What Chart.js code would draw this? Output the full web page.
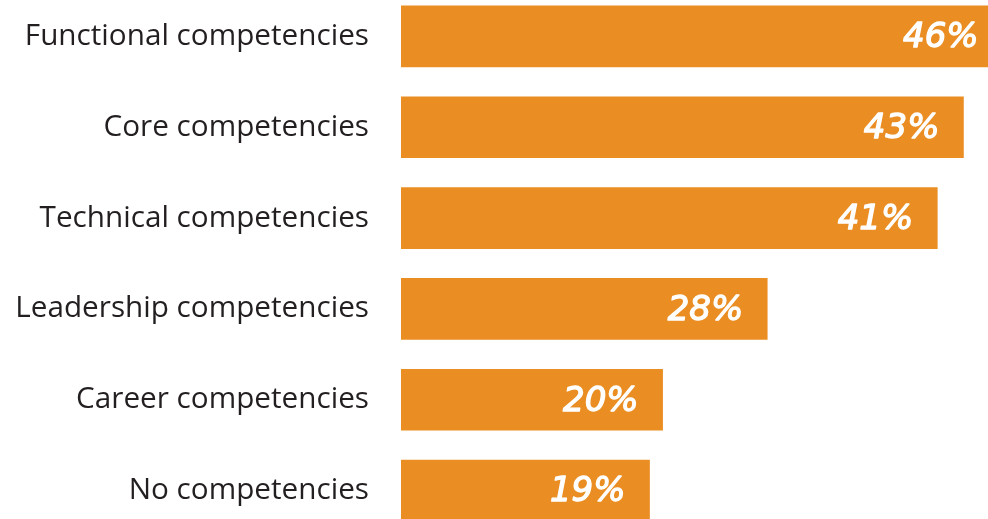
<!DOCTYPE html>
<html>
<head>
<meta charset="utf-8">
<script src="https://cdn.jsdelivr.net/npm/chart.js@4"></script>
<style>
  html, body { margin: 0; padding: 0; background: #fff; overflow: hidden; width: 988px; height: 519px; }
  #bar-canvas { position: absolute; left: 0; top: -9px; }
</style>
</head>
<body>
<canvas id="bar-canvas" width="1055" height="545"></canvas>
<script>
const categories = [
    'Functional competencies',
    'Core competencies',
    'Technical competencies',
    'Leadership competencies',
    'Career competencies',
    'No competencies'
];
const percentValues = [46, 43, 41, 28, 20, 19];
const valueLabels = ['46%', '43%', '41%', '28%', '20%', '19%'];

// white italic value text near the end of each bar
const valueLabelPlugin = {
    id: 'valueLabels',
    afterDatasetsDraw(chart) {
        const ctx = chart.ctx;
        const meta = chart.getDatasetMeta(0);
        ctx.save();
        ctx.fillStyle = '#ffffff';
        ctx.strokeStyle = '#ffffff';
        ctx.lineWidth = 1.3;
        ctx.lineJoin = 'round';
        ctx.font = 'italic 34px "DejaVu Sans"';
        ctx.textAlign = 'right';
        ctx.textBaseline = 'middle';
        meta.data.forEach((bar, i) => {
            ctx.fillText(valueLabels[i], bar.x - 24, bar.y + 2);
            ctx.strokeText(valueLabels[i], bar.x - 24, bar.y + 2);
        });
        ctx.restore();
    }
};

const ctx = document.getElementById('bar-canvas').getContext('2d');
new Chart(ctx, {
    type: 'bar',
    data: {
        labels: categories,
        datasets: [{
            data: percentValues,
            backgroundColor: '#ea8e23',
            borderWidth: 0,
            barThickness: 61
        }]
    },
    options: {
        indexAxis: 'y',
        responsive: false,
        animation: false,
        layout: { padding: 0 },
        plugins: {
            legend: { display: false },
            tooltip: { enabled: false }
        },
        scales: {
            x: { display: false, min: 0, max: 50 },
            y: {
                grid: { display: false, drawTicks: false },
                border: { display: false },
                afterFit: scale => {
                    scale.width = 401;
                    scale.paddingTop = 0;
                    scale.paddingBottom = 0;
                },
                ticks: {
                    color: '#231f20',
                    padding: 32,
                    font: { family: 'Open Sans', size: 29.7 }
                }
            }
        }
    },
    plugins: [valueLabelPlugin]
});
</script>
</body>
</html>
